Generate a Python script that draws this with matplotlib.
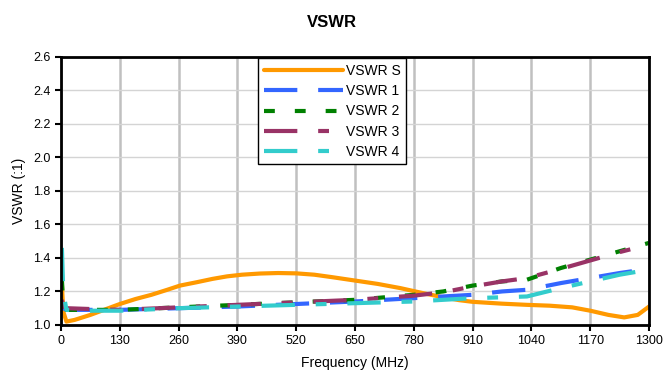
import matplotlib
matplotlib.use("Agg")
import matplotlib.pyplot as plt

plt.rcParams['font.family'] = ['Liberation Sans', 'DejaVu Sans']

freq_s = [2, 5, 12, 30, 65, 100, 130, 165, 200, 235, 263, 300, 335, 367, 400, 440, 480, 520, 560, 600, 650, 700, 750, 800, 845, 880, 910, 975, 1030, 1080, 1130, 1170, 1210, 1245, 1275, 1300]
vswr_s = [1.24, 1.08, 1.02, 1.03, 1.06, 1.095, 1.125, 1.155, 1.18, 1.21, 1.235, 1.255, 1.275, 1.29, 1.30, 1.307, 1.31, 1.308, 1.30, 1.285, 1.265, 1.245, 1.22, 1.19, 1.165, 1.148, 1.138, 1.127, 1.12, 1.115, 1.105, 1.085, 1.06, 1.045, 1.06, 1.11]

freq_d = [2, 5, 12, 65, 130, 260, 390, 520, 650, 780, 845, 910, 975, 1030, 1105, 1170, 1235, 1300]
vswr_1 = [1.12, 1.10, 1.09, 1.09, 1.09, 1.10, 1.11, 1.125, 1.14, 1.16, 1.17, 1.18, 1.20, 1.21, 1.25, 1.28, 1.31, 1.335]
vswr_2 = [1.27, 1.12, 1.09, 1.09, 1.09, 1.105, 1.12, 1.135, 1.15, 1.18, 1.20, 1.235, 1.26, 1.27, 1.34, 1.39, 1.44, 1.49]
vswr_3 = [1.15, 1.11, 1.10, 1.095, 1.09, 1.105, 1.12, 1.135, 1.15, 1.175, 1.195, 1.23, 1.26, 1.28, 1.335, 1.385, 1.435, 1.48]
vswr_4 = [1.46, 1.20, 1.09, 1.085, 1.085, 1.10, 1.11, 1.12, 1.13, 1.14, 1.15, 1.16, 1.165, 1.17, 1.22, 1.26, 1.30, 1.33]

labels = ['VSWR S', 'VSWR 1', 'VSWR 2', 'VSWR 3', 'VSWR 4']
colors = ['#FF9900', '#3366FF', '#008000', '#993366', '#33CCCC']
xticks = [0, 130, 260, 390, 520, 650, 780, 910, 1040, 1170, 1300]
yticks = [1.0, 1.2, 1.4, 1.6, 1.8, 2.0, 2.2, 2.4, 2.6]

fig = plt.figure(figsize=(6.63, 3.85), dpi=100)
ax = fig.add_axes([0.092, 0.156, 0.887, 0.696])

lw = 3
ax.plot(freq_s, vswr_s, color=colors[0], lw=lw, label=labels[0], solid_capstyle='round')
ax.plot(freq_d, vswr_1, color=colors[1], lw=lw, label=labels[1], dashes=(8, 5))
ax.plot(freq_d, vswr_2, color=colors[2], lw=lw, label=labels[2], dashes=(2.6, 4.8))
ax.plot(freq_d, vswr_3, color=colors[3], lw=lw, label=labels[3], dashes=(8, 5, 2.6, 5))
ax.plot(freq_d, vswr_4, color=colors[4], lw=lw, label=labels[4], dashes=(8, 5, 2.6, 5))

ax.set_xlim(0, 1300)
ax.set_ylim(1.0, 2.6)
ax.set_xticks(xticks)
ax.set_yticks(yticks)
ax.set_yticklabels([f'{v:.1f}' for v in yticks])
ax.tick_params(labelsize=9, direction='out', length=4, width=1.5, colors='black')
ax.xaxis.grid(True, color='#C0C0C0', lw=1.8)
ax.yaxis.grid(True, color='#D4D4D4', lw=1.0)
ax.set_axisbelow(True)
for sp in ax.spines.values():
    sp.set_linewidth(2)
    sp.set_color('black')

ax.set_xlabel('Frequency (MHz)', fontsize=10, labelpad=6)
ax.set_ylabel('VSWR (:1)', fontsize=10, labelpad=5)
fig.suptitle('VSWR', fontsize=12, fontweight='bold', x=0.5, y=0.96)

leg = ax.legend(loc='upper left', bbox_to_anchor=(0.335, 0.995), fontsize=10,
                handlelength=5.7, handletextpad=0.2, labelspacing=0.45,
                fancybox=False, framealpha=1, edgecolor='black',
                borderpad=0.4, borderaxespad=0)
leg.get_frame().set_linewidth(1)

fig.savefig('out.png', dpi=100)
